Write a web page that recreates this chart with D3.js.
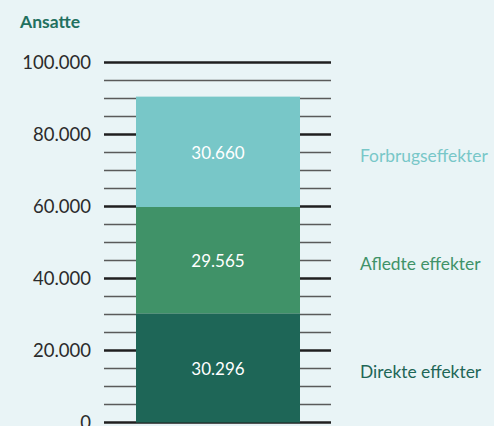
<!DOCTYPE html>
<html><head><meta charset="utf-8">
<script src="https://cdn.jsdelivr.net/npm/d3@7"></script>
<style>
html,body{margin:0;padding:0;background:#E9F4F6;}
svg{display:block;font-family:Lato,"Open Sans",sans-serif;}
</style></head>
<body>
<svg id="c" width="494" height="426"></svg>
<script>
const categories = ["Direkte effekter", "Afledte effekter", "Forbrugseffekter"];
const values = [30296, 29565, 30660];
const valueLabels = ["30.296", "29.565", "30.660"];
const colors = ["#1E6657", "#409268", "#78C7C8"];
const tickValues = [0, 20000, 40000, 60000, 80000, 100000];
const tickLabels = ["0", "20.000", "40.000", "60.000", "80.000", "100.000"];
const title = "Ansatte";

const svg = d3.select("#c");
const y = d3.scaleLinear().domain([0, 100000]).range([422.5, 62.5]);
const lineX0 = 104, lineX1 = 331, barX0 = 136, barX1 = 300;

// minor + major lines
const minor = d3.range(0, 100001, 5000);
svg.append("g").selectAll("line").data(minor).join("line")
  .attr("x1", lineX0).attr("x2", lineX1)
  .attr("y1", d => y(d)).attr("y2", d => y(d))
  .attr("stroke", d => d % 20000 === 0 ? "#1f1f1f" : "#5a5a5a")
  .attr("stroke-width", d => d % 20000 === 0 ? 2.6 : 1.5);

// stacked bar
let cum = 0;
const segs = values.map((v, i) => { const s = {y0: cum, y1: cum + v, i}; cum += v; return s; });
svg.append("g").selectAll("rect").data(segs).join("rect")
  .attr("x", barX0).attr("width", barX1 - barX0)
  .attr("y", d => y(d.y1)).attr("height", d => y(d.y0) - y(d.y1))
  .attr("fill", d => colors[d.i]);

svg.append("g").selectAll("text").data(segs).join("text")
  .attr("x", (barX0 + barX1) / 2).attr("y", d => y((d.y0 + d.y1) / 2) + 1)
  .attr("dy", "0.36em").attr("text-anchor", "middle")
  .attr("fill", "#fff").attr("font-size", 17)
  .text(d => valueLabels[d.i]);

// legend labels
svg.append("g").selectAll("text").data(segs).join("text")
  .attr("x", 360).attr("y", d => y((d.y0 + d.y1) / 2) + 4)
  .attr("dy", "0.36em")
  .attr("fill", d => colors[d.i]).attr("font-size", 17.4)
  .text(d => categories[d.i]);

// tick labels
svg.append("g").selectAll("text").data(tickValues).join("text")
  .attr("x", 91).attr("y", d => y(d)).attr("dy", "0.36em")
  .attr("text-anchor", "end").attr("fill", "#2b2b2b").attr("font-size", 18.5)
  .text((d, i) => tickLabels[i]);

svg.append("text").attr("x", 20).attr("y", 27.5)
  .attr("fill", "#22705F").attr("font-weight", "bold").attr("font-size", 17.5)
  .text(title);
</script>
</body></html>
